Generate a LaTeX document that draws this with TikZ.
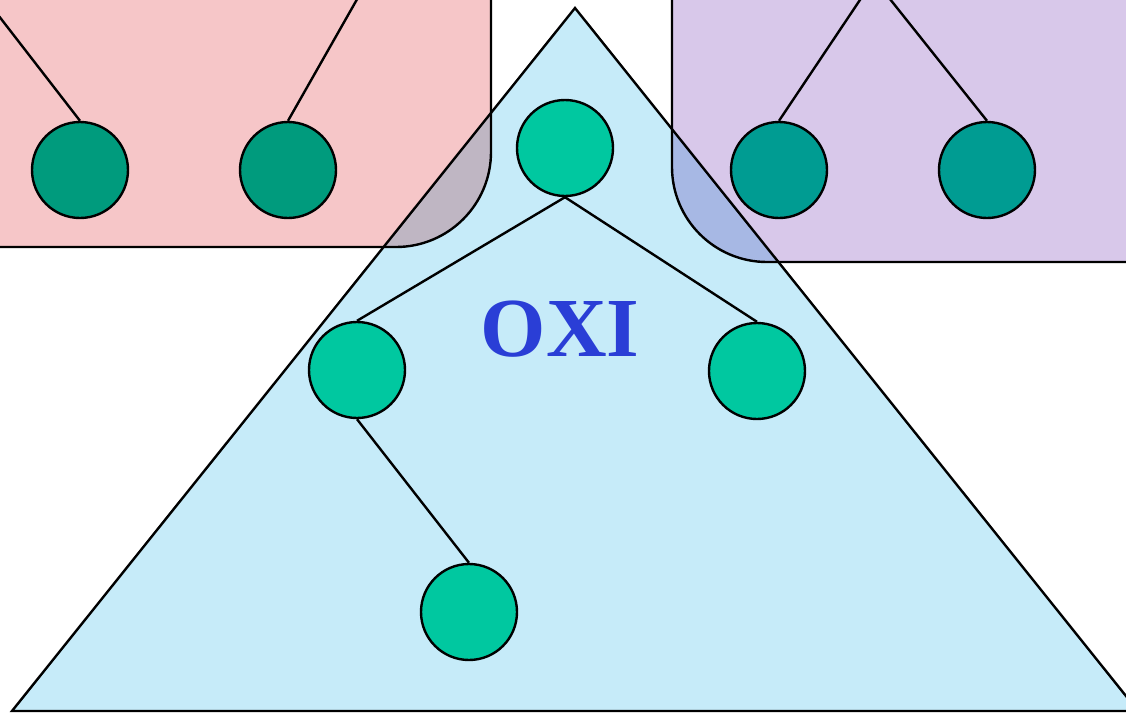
\documentclass[tikz,border=0pt]{standalone}
\usepackage{fontspec}
\setmainfont{Liberation Serif}
\usepackage{xcolor}
\usetikzlibrary{positioning}
\definecolor{tricyan}{RGB}{198,235,249}
\definecolor{pinkfill}{RGB}{246,198,200}
\definecolor{lilacfill}{RGB}{216,200,234}
\definecolor{nodeteal}{RGB}{0,200,160}
\definecolor{oxiblue}{RGB}{42,62,214}

\begin{document}
\begin{tikzpicture}[x=0.5pt,y=-0.5pt,every node/.style={font=\small},
  treenode/.style={circle,draw,line width=1.2pt,fill=nodeteal,minimum size=48pt,inner sep=0pt},
  edge/.style={line width=1.2pt}]
\useasboundingbox (0,0) rectangle (1126,713);
\clip (0,0) rectangle (1126,713);
% big triangle
\fill[tricyan] (575,8) -- (12,711) -- (1138,711) -- cycle;
% subtrees under the pink and lilac boxes
\coordinate (pinkupA) at (-29,-20);
\coordinate (pinkupB) at (368,-20);
\coordinate (lilacup) at (874,-21);
\node[treenode] (pinkA) at (80,170) {};
\node[treenode] (pinkB) at (288,170) {};
\node[treenode] (lilacA) at (779,170) {};
\node[treenode] (lilacB) at (987,170) {};
\draw[edge] (pinkupA) -- (pinkA.north);
\draw[edge] (pinkupB) -- (pinkB.north);
\draw[edge] (lilacup) -- (lilacA.north);
\draw[edge] (lilacup) -- (lilacB.north);
% the two boxes
\fill[pinkfill,blend mode=multiply,rounded corners=47.5pt] (-200,-200) rectangle (491,247);
\fill[lilacfill,blend mode=multiply,rounded corners=47.5pt] (672,-200) rectangle (1330,262);
\draw[edge,rounded corners=47.5pt] (-200,-200) rectangle (491,247);
\draw[edge,rounded corners=47.5pt] (672,-200) rectangle (1330,262);
\draw[edge] (575,8) -- (12,711) -- (1138,711) -- cycle;
% tree inside the triangle
\node[treenode] (root) at (565,148) {};
\node[treenode] (left) at (357,370) {};
\node[treenode] (right) at (757,371) {};
\node[treenode] (leftdown) at (469,612) {};
\draw[edge] (root.south) -- (left.north);
\draw[edge] (root.south) -- (right.north);
\draw[edge] (left.south) -- (leftdown.north);
\node[text=oxiblue,font=\fontsize{42}{42}\selectfont\bfseries] (oxi) at (560,329) {OXI};
\end{tikzpicture}
\end{document}
